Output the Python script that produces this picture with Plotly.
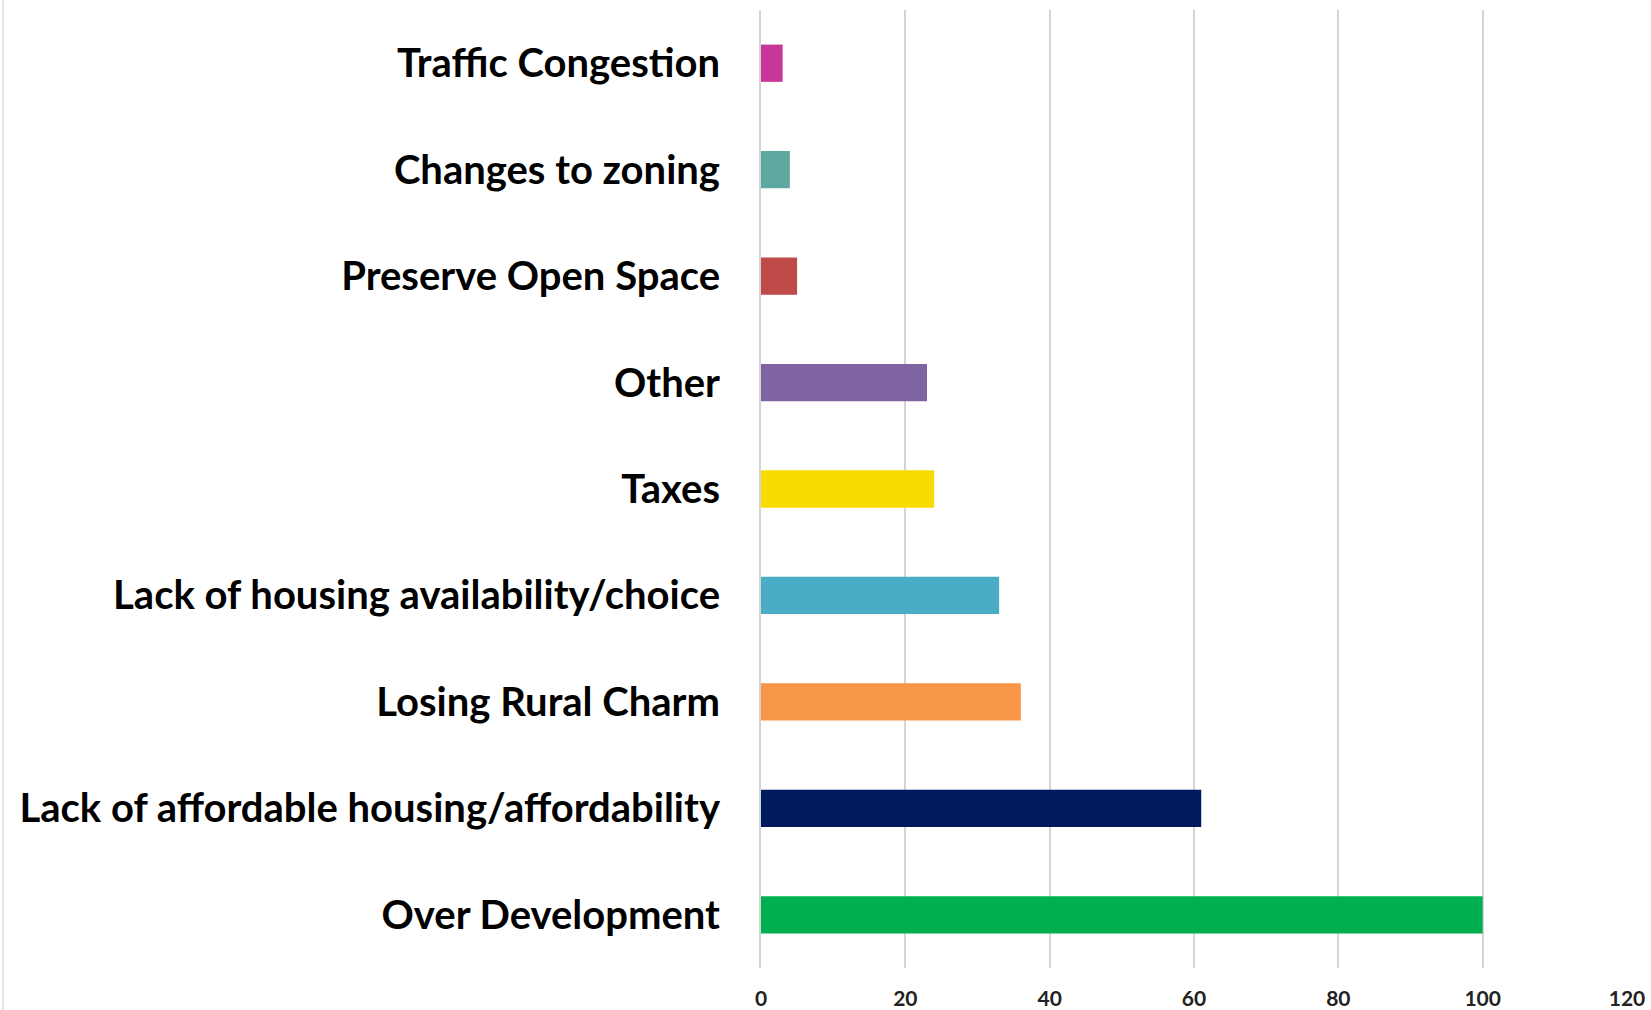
import plotly.graph_objects as go

categories = [
    "Over Development",
    "Lack of affordable housing/affordability",
    "Losing Rural Charm",
    "Lack of housing availability/choice",
    "Taxes",
    "Other",
    "Preserve Open Space",
    "Changes to zoning",
    "Traffic Congestion",
]
counts = [100, 61, 36, 33, 24, 23, 5, 4, 3]
bar_colors = [
    "#00B050", "#001A5E", "#F79646", "#4BACC6", "#F8DC00",
    "#7E64A0", "#BE4B48", "#5FA8A0", "#C9369A",
]
x_ticks = [0, 20, 40, 60, 80, 100, 120]

W, H = 1651, 1010
ml, mr, mt, mb = 761, 24, 10, 42

fig = go.Figure(
    go.Bar(
        x=counts,
        y=categories,
        orientation="h",
        marker=dict(color=bar_colors, line=dict(width=0)),
    )
)

fig.update_layout(
    width=W,
    height=H,
    margin=dict(l=ml, r=mr, t=mt, b=mb),
    paper_bgcolor="white",
    plot_bgcolor="white",
    bargap=0.65,
    showlegend=False,
    font=dict(family="Lato", color="black"),
)

fig.update_xaxes(
    range=[0, 120],
    tickvals=x_ticks,
    automargin=False,
    showgrid=True,
    gridcolor="#d4d4d4",
    gridwidth=2,
    zeroline=False,
    showline=False,
    tickfont=dict(family="Lato", size=21, color="#222", weight="bold"),
    ticklabelstandoff=16,
)
fig.update_yaxes(
    automargin=False,
    showgrid=False,
    showline=True,
    linecolor="#d4d4d4",
    linewidth=2,
    tickfont=dict(family="Lato", size=40, color="black", weight="bold"),
    ticklabelstandoff=31,
)

# faint border on the left edge of the image
fig.add_shape(
    type="line", xref="paper", yref="paper",
    x0=-(ml - 3) / (W - ml - mr), x1=-(ml - 3) / (W - ml - mr),
    y0=-mb / (H - mt - mb), y1=1 + mt / (H - mt - mb),
    line=dict(color="#e4e4e4", width=2),
)

# drop the default body margin so the figure fills the window exactly
fig.write_html(
    "out.html",
    config={"displayModeBar": False},
    post_script="document.body.style.margin = '0';",
)
